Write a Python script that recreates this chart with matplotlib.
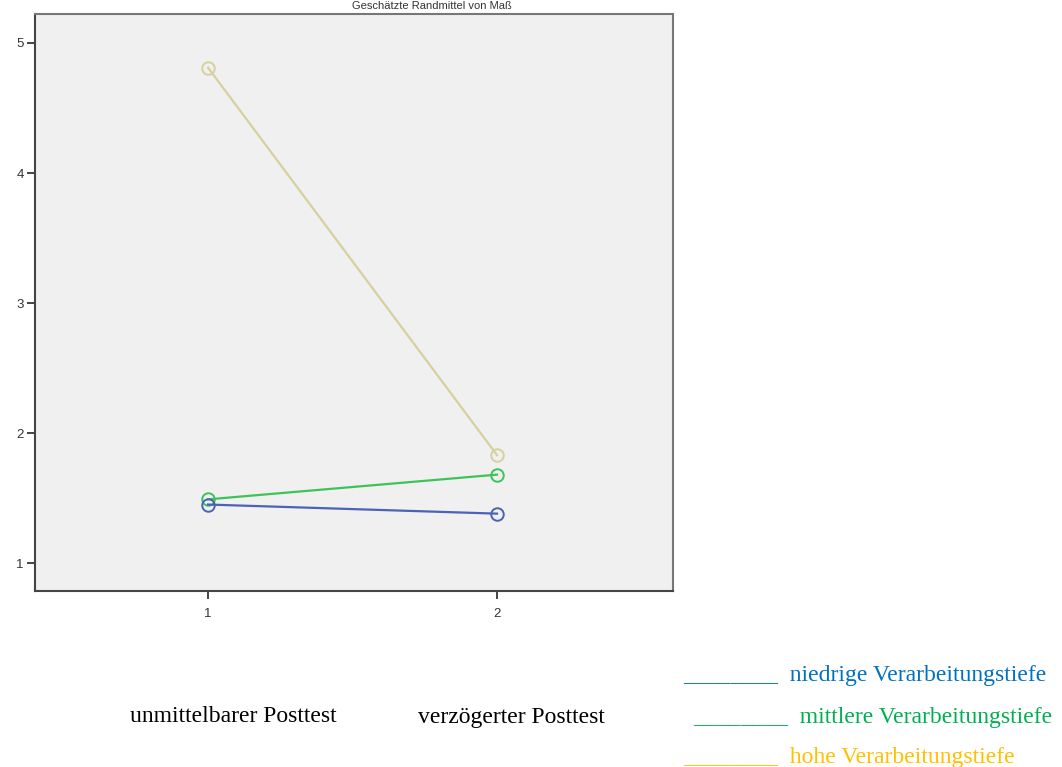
import matplotlib.pyplot as plt

# data
time_points = [1, 2]
niedrig = [1.45, 1.38]
mittel = [1.49, 1.68]
hoch = [4.81, 1.83]

W, H = 1062, 767
fig = plt.figure(figsize=(W / 100, H / 100), dpi=100)
ax = fig.add_axes([35 / W, 1 - 591 / H, (673 - 35) / W, (591 - 14) / H])
ax.set_facecolor('#f0f0f0')

ax.plot(time_points, hoch, color='#d6d19c', lw=1.6, marker='o', ms=9,
        mfc='none', mew=1.4)
ax.plot(time_points, mittel, color='#3cc35a', lw=1.6, marker='o', ms=9,
        mfc='none', mew=1.4)
ax.plot(time_points, niedrig, color='#4a62b8', lw=1.6, marker='o', ms=9,
        mfc='none', mew=1.4)

ax.set_xlim(0.401, 2.609)
ax.set_ylim(0.785, 5.223)
ax.set_xticks(time_points)
ax.set_yticks([1, 2, 3, 4, 5])
ax.tick_params(length=6, width=1.4, color='#444444', labelsize=9.5,
               labelcolor='#333333', pad=2)
ax.tick_params(axis='x', pad=6)
for lab in ax.get_xticklabels() + ax.get_yticklabels():
    lab.set_family('Liberation Sans')
for side in ['top', 'right']:
    ax.spines[side].set_color('#777777')
    ax.spines[side].set_linewidth(1.5)
for side in ['left', 'bottom']:
    ax.spines[side].set_color('#444444')
    ax.spines[side].set_linewidth(1.5)

# small title squeezed above the frame (cut off in the original)
fig.text(432 / W, 1 - 6 / H, 'Geschätzte Randmittel von Maß', ha='center',
         va='center', fontsize=8, color='#333333', family='Liberation Sans')

serif = 'Liberation Serif'
fs = 17
fig.text(130 / W, 1 - 717 / H, 'unmittelbarer Posttest', fontsize=fs,
         family=serif, va='center')
fig.text(418 / W, 1 - 717 / H, 'verzögerter Posttest', fontsize=fs,
         family=serif, va='center')

legend_items = [
    ('niedrige Verarbeitungstiefe', '#0070c0', 683, 676),
    ('mittlere Verarbeitungstiefe', '#00b050', 693, 717),
    ('hohe Verarbeitungstiefe', '#ffc000', 683, 757),
]
for label, col, x0, y0 in legend_items:
    fig.text(x0 / W, 1 - y0 / H, '________  ' + label, fontsize=fs,
             family=serif, color=col, va='center')

fig.savefig('out.png', dpi=100)
